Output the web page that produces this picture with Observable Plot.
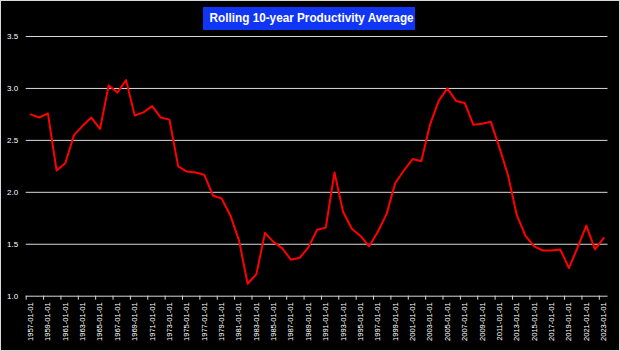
<!DOCTYPE html>
<html>
<head>
<meta charset="utf-8">
<script src="https://cdn.jsdelivr.net/npm/d3@7"></script>
<script src="https://cdn.jsdelivr.net/npm/@observablehq/plot@0.6"></script>
<style>
  html, body { margin: 0; padding: 0; background: #000; }
  #wrap { position: relative; width: 620px; height: 351px; background: #000; overflow: hidden; }
  #frame { position: absolute; left: 0; top: 0; width: 620px; height: 351px; box-sizing: border-box; border: 1px solid #d9d9d9; pointer-events: none; }
  #title { position: absolute; left: 203px; top: 7px; width: 212px; height: 23px; background: #1035f5; color: #fff;
           font-family: "Liberation Sans", Arial, sans-serif; font-weight: bold; font-size: 12.5px; line-height: 23px;
           text-align: center; white-space: nowrap; overflow: hidden; }
  #title span { display: inline-block; transform-origin: center center; }
  #chart svg { display: block; }
</style>
</head>
<body>
<div id="wrap">
  <div id="chart"></div>
  <div id="title"><span>Rolling 10-year Productivity Average</span></div>
  <div id="frame"></div>
</div>
<script>
const years = [1957,1958,1959,1960,1961,1962,1963,1964,1965,1966,1967,1968,1969,1970,1971,1972,1973,1974,1975,1976,
  1977,1978,1979,1980,1981,1982,1983,1984,1985,1986,1987,1988,1989,1990,1991,1992,1993,1994,1995,1996,
  1997,1998,1999,2000,2001,2002,2003,2004,2005,2006,2007,2008,2009,2010,2011,2012,2013,2014,2015,2016,
  2017,2018,2019,2020,2021,2022,2023];
const productivity = [2.75,2.72,2.76,2.21,2.28,2.55,2.64,2.72,2.61,3.03,2.96,3.08,2.74,2.77,2.83,2.72,2.70,2.25,2.20,2.19,
  2.17,1.97,1.94,1.78,1.54,1.12,1.21,1.61,1.52,1.46,1.35,1.37,1.47,1.64,1.66,2.19,1.81,1.65,1.58,1.48,
  1.62,1.79,2.09,2.21,2.32,2.30,2.65,2.88,3.00,2.88,2.86,2.65,2.66,2.68,2.43,2.16,1.78,1.58,1.48,1.44,
  1.44,1.45,1.27,1.47,1.68,1.45,1.56];
const yTicks = [1.0, 1.5, 2.0, 2.5, 3.0, 3.5];
const labelYears = years.filter((d, i) => i % 2 === 0);
const tickBoundaries = labelYears.map(d => d - 0.5);

const data = years.map((year, i) => ({year, value: productivity[i]}));

const chart = Plot.plot({
  width: 620,
  height: 351,
  marginLeft: 25.7,
  marginRight: 12.5,
  marginTop: 36,
  marginBottom: 55.3,
  style: {background: "#000", color: "#fff", fontFamily: "'Liberation Sans', Arial, sans-serif", fontSize: "8px"},
  x: {domain: [years[0] - 0.5, years[years.length - 1] + 0.5], axis: null},
  y: {domain: [1, 3.5], axis: null},
  marks: [
    Plot.gridY(yTicks, {stroke: "#d9d9d9", strokeOpacity: 1, strokeWidth: 1}),
    Plot.axisY(yTicks, {label: null, tickSize: 0, tickPadding: 8, tickFormat: d3.format(".1f"), fill: "#fff", fontSize: 8}),
    Plot.axisX(tickBoundaries, {label: null, tickSize: 4, tickFormat: () => "", stroke: "#d9d9d9", strokeOpacity: 1}),
    Plot.axisX(labelYears, {label: null, tickSize: 0, tickPadding: 6, tickRotate: -90, tickFormat: d => `${d}-01-01`, fill: "#fff", fontSize: 7.6}),
    Plot.line(data, {x: "year", y: "value", stroke: "#ff0000", strokeWidth: 2})
  ]
});
document.getElementById("chart").appendChild(chart);

const span = document.querySelector("#title span");
const w = span.getBoundingClientRect().width;
span.style.transform = `scaleX(${204 / w})`;
</script>
</body>
</html>
